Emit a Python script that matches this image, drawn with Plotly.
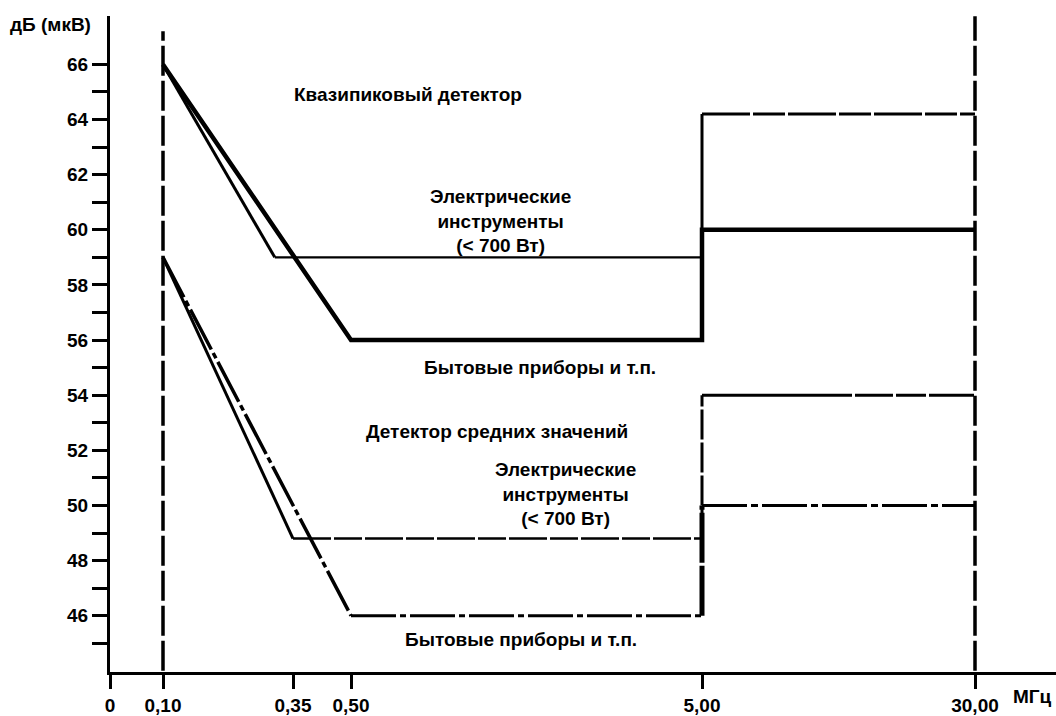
import numpy as np
import plotly.graph_objects as go

# ---------------- data ----------------
x_tick_freq = [0.0, 0.10, 0.35, 0.50, 5.00, 30.00]
x_tick_text = ["0", "0,10", "0,35", "0,50", "5,00", "30,00"]
y_tick_vals = list(range(45, 67))
y_tick_text = [str(v) if v % 2 == 0 else "" for v in y_tick_vals]

# quasi-peak detector
qp_tools_f = [0.10, 0.315, 5.00, 5.00, 30.00]
qp_tools_db = [66, 59, 59, 64.2, 64.2]
qp_home_f = [0.10, 0.50, 5.00, 5.00, 30.00]
qp_home_db = [66, 56, 56, 60, 60]
# average detector
av_tools_f = [0.10, 0.35, 5.00, 5.00, 30.00]
av_tools_db = [59, 48.8, 48.8, 54, 54]
av_home_f = [0.10, 0.50, 5.00, 5.00, 30.00]
av_home_db = [59, 46, 46, 50, 50]
# boundary reference lines
ref_f = [0.10, 30.00]
ref_db_low = [44, 44]
ref_db_top = [67.2, 67.75]

# --------------- axis scale (non-uniform frequency axis) ---------------
x_tick_pos = [0, 53, 183, 241, 592, 865]


def fx(f):
    return np.interp(np.asarray(f, dtype=float), x_tick_freq, x_tick_pos)


FONT = "Liberation Sans, Arial, sans-serif"
fig = go.Figure()


def seg(f, db, i, j, width, dash="solid"):
    fig.add_trace(go.Scatter(
        x=fx(f[i:j + 1]), y=db[i:j + 1], mode="lines",
        line=dict(color="black", width=width, dash=dash),
        showlegend=False, hoverinfo="skip"))


# reference vertical lines at 0.10 and 30 MHz
for k in range(2):
    fig.add_trace(go.Scatter(
        x=fx([ref_f[k], ref_f[k]]), y=[ref_db_low[k], ref_db_top[k]], mode="lines",
        line=dict(color="black", width=3.5, dash="30px,5px"),
        showlegend=False, hoverinfo="skip"))

# quasi-peak, tools
seg(qp_tools_f, qp_tools_db, 0, 1, 3)
seg(qp_tools_f, qp_tools_db, 1, 2, 2.2)
seg(qp_tools_f, qp_tools_db, 2, 3, 3)
seg(qp_tools_f, qp_tools_db, 3, 4, 3, "48px,3px,32px,3px")
# quasi-peak, household
seg(qp_home_f, qp_home_db, 0, 4, 4.5)
# average, tools
seg(av_tools_f, av_tools_db, 0, 1, 3)
seg(av_tools_f, av_tools_db, 1, 2, 2.5, "38px,3px,28px,3px")
seg(av_tools_f, av_tools_db, 2, 3, 3, "30px,3px")
seg(av_tools_f, av_tools_db, 3, 4, 3, "150px,3px,38px,3px,30px,3px,45px,3px")
# average, household
seg(av_home_f, av_home_db, 0, 1, 3.5, "45px,4px,6px,4px")
seg(av_home_f, av_home_db, 1, 2, 3, "45px,4px,6px,4px")
seg(av_home_f, av_home_db, 2, 3, 5, "50px,3px")
seg(av_home_f, av_home_db, 3, 4, 3, "45px,4px,7px,4px")

# --------------- layout ---------------
L, T, W, H = 110, 16, 946, 664
Y0, YPX0, YSC = 66, 65, 27.9


def px2x(px):
    return px - L


def px2y(py):
    return Y0 - (py - YPX0) / YSC


def paper_x(px):
    return (px - L) / W


def paper_y(py):
    return (T + H - py) / H


tf = dict(family=FONT, size=19, color="black", weight="bold")

notes = [
    ("Квазипиковый детектор", 408, 95),
    ("Электрические<br>инструменты<br>(&lt; 700 Вт)", 500, 223),
    ("Бытовые приборы и т.п.", 540, 372),
    ("Детектор средних значений", 497, 437),
    ("Электрические<br>инструменты<br>(&lt; 700 Вт)", 565, 500),
    ("Бытовые приборы и т.п.", 521, 647),
]
annotations = [dict(text=t, x=px2x(x), y=px2y(y), xref="x", yref="y",
                    showarrow=False, font=tf, xanchor="center", yanchor="middle")
               for t, x, y in notes]
annotations.append(dict(text="дБ (мкВ)", x=paper_x(50), y=paper_y(25), xref="paper",
                        yref="paper", showarrow=False, font=tf,
                        xanchor="center", yanchor="middle"))
annotations.append(dict(text="МГц", x=paper_x(1011), y=paper_y(705), xref="paper",
                        yref="paper", showarrow=False, font=tf,
                        xanchor="left", yanchor="middle"))

fig.update_layout(
    width=1056, height=716,
    margin=dict(l=L, r=1056 - L - W, t=T, b=716 - T - H, pad=0),
    paper_bgcolor="white", plot_bgcolor="white",
    font=tf,
    annotations=annotations,
    xaxis=dict(range=[0, W], tickmode="array", tickvals=x_tick_pos, ticktext=x_tick_text,
               showgrid=False, zeroline=False, showline=True, linecolor="black",
               linewidth=3, ticks="outside", ticklen=14, tickwidth=2.5,
               tickcolor="black", tickfont=tf),
    yaxis=dict(range=[px2y(T + H), px2y(T)], tickmode="array", tickvals=y_tick_vals,
               ticktext=y_tick_text, showgrid=False, zeroline=False, showline=True,
               linecolor="black", linewidth=3, ticks="outside", ticklen=15,
               tickwidth=3, tickcolor="black", tickfont=tf),
)

fig.write_html(
    "out.html",
    config={"displayModeBar": False},
    post_script="document.body.style.margin='0';document.body.style.overflow='hidden';",
)
